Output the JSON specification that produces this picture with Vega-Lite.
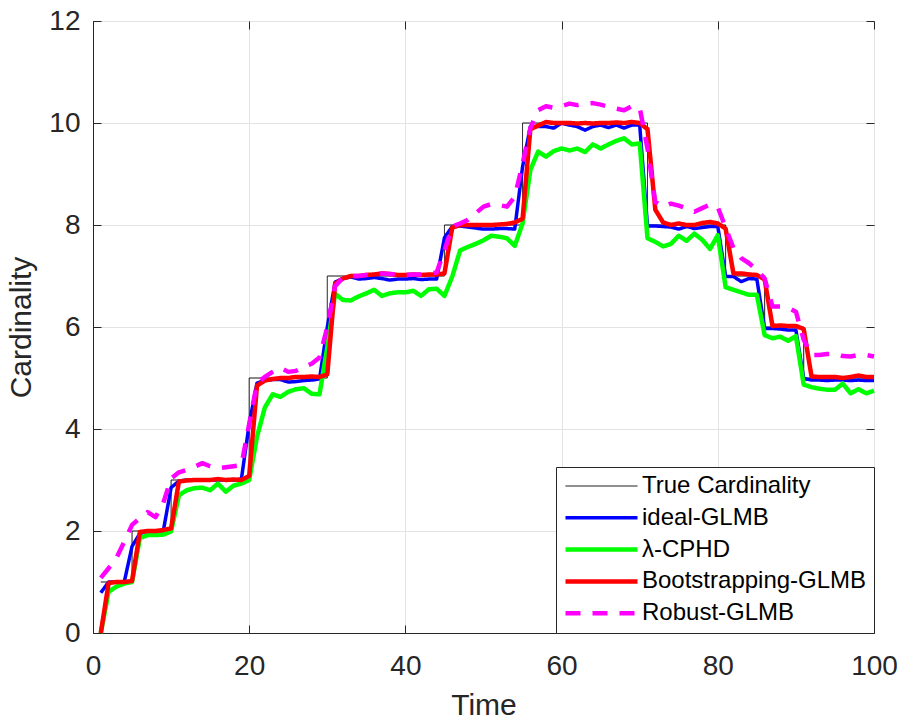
{
  "$schema": "https://vega.github.io/schema/vega-lite/v6.json",
  "width": 781,
  "height": 612,
  "autosize": "none",
  "padding": {"left": 93, "top": 21, "right": 25, "bottom": 82},
  "config": {
    "font": "Liberation Sans",
    "view": {"stroke": "#262626", "strokeWidth": 1},
    "axis": {
      "domainColor": "#262626",
      "tickColor": "#262626",
      "tickSize": -8,
      "labelColor": "#262626",
      "labelFont": "Liberation Sans",
      "labelFontSize": 28,
      "labelFlush": false,
      "titleFont": "Liberation Sans",
      "titleFontSize": 30,
      "titleFontWeight": "normal",
      "titleColor": "#262626",
      "gridColor": "#e3e3e3",
      "gridWidth": 1
    },
    "legend": {
      "orient": "bottom-right",
      "offset": 0,
      "padding": 7,
      "fillColor": "white",
      "strokeColor": "#262626",
      "labelFont": "Liberation Sans",
      "labelFontSize": 24,
      "labelColor": "#000000",
      "labelLimit": 0,
      "symbolType": "stroke",
      "symbolSize": 5184,
      "clipHeight": 24,
      "rowPadding": 7.8,
      "labelOffset": 2
    },
    "line": {"strokeJoin": "round"}
  },
  "datasets": {
    "card": [
      {"t": 1, "truth": 1, "ideal": 0.79, "cphd": 0, "boot": 0, "robust": 1.08},
      {"t": 2, "truth": 1, "ideal": 1.0, "cphd": 0.81, "boot": 0.98, "robust": 1.27},
      {"t": 3, "truth": 1, "ideal": 1.0, "cphd": 0.91, "boot": 1.0, "robust": 1.47},
      {"t": 4, "truth": 1, "ideal": 1.0, "cphd": 0.97, "boot": 1.0, "robust": 1.79},
      {"t": 5, "truth": 2, "ideal": 1.7, "cphd": 1.0, "boot": 1.02, "robust": 2.12},
      {"t": 6, "truth": 2, "ideal": 1.95, "cphd": 1.86, "boot": 1.98, "robust": 2.25},
      {"t": 7, "truth": 2, "ideal": 2.0, "cphd": 1.92, "boot": 2.0, "robust": 2.37},
      {"t": 8, "truth": 2, "ideal": 2.0, "cphd": 1.92, "boot": 2.0, "robust": 2.27},
      {"t": 9, "truth": 2, "ideal": 2.0, "cphd": 1.93, "boot": 2.02, "robust": 2.55},
      {"t": 10, "truth": 3, "ideal": 2.85, "cphd": 1.99, "boot": 2.05, "robust": 3.03},
      {"t": 11, "truth": 3, "ideal": 2.98, "cphd": 2.7, "boot": 2.97, "robust": 3.15},
      {"t": 12, "truth": 3, "ideal": 3.0, "cphd": 2.8, "boot": 2.99, "robust": 3.2},
      {"t": 13, "truth": 3, "ideal": 3.0, "cphd": 2.84, "boot": 3.0, "robust": 3.26},
      {"t": 14, "truth": 3, "ideal": 3.0, "cphd": 2.85, "boot": 3.0, "robust": 3.33},
      {"t": 15, "truth": 3, "ideal": 3.0, "cphd": 2.8, "boot": 3.0, "robust": 3.27},
      {"t": 16, "truth": 3, "ideal": 3.0, "cphd": 2.93, "boot": 3.02, "robust": 3.23},
      {"t": 17, "truth": 3, "ideal": 3.0, "cphd": 2.77, "boot": 3.0, "robust": 3.25},
      {"t": 18, "truth": 3, "ideal": 3.0, "cphd": 2.89, "boot": 3.01, "robust": 3.27},
      {"t": 19, "truth": 3, "ideal": 3.02, "cphd": 2.93, "boot": 3.0, "robust": 3.29},
      {"t": 20, "truth": 5, "ideal": 4.1, "cphd": 3.0, "boot": 3.08, "robust": 4.1},
      {"t": 21, "truth": 5, "ideal": 4.9, "cphd": 3.85, "boot": 4.85, "robust": 4.9},
      {"t": 22, "truth": 5, "ideal": 4.95, "cphd": 4.42, "boot": 4.95, "robust": 5.02},
      {"t": 23, "truth": 5, "ideal": 4.97, "cphd": 4.68, "boot": 4.98, "robust": 5.12},
      {"t": 24, "truth": 5, "ideal": 4.97, "cphd": 4.63, "boot": 5.0, "robust": 5.2},
      {"t": 25, "truth": 5, "ideal": 4.92, "cphd": 4.73, "boot": 5.0, "robust": 5.12},
      {"t": 26, "truth": 5, "ideal": 4.93, "cphd": 4.78, "boot": 5.02, "robust": 5.14},
      {"t": 27, "truth": 5, "ideal": 4.95, "cphd": 4.8, "boot": 5.02, "robust": 5.22},
      {"t": 28, "truth": 5, "ideal": 4.96, "cphd": 4.69, "boot": 5.03, "robust": 5.28},
      {"t": 29, "truth": 5, "ideal": 4.98, "cphd": 4.68, "boot": 5.02, "robust": 5.4},
      {"t": 30, "truth": 7, "ideal": 6.0, "cphd": 5.6, "boot": 5.07, "robust": 6.0},
      {"t": 31, "truth": 7, "ideal": 6.88, "cphd": 6.65, "boot": 6.85, "robust": 6.8},
      {"t": 32, "truth": 7, "ideal": 6.95, "cphd": 6.53, "boot": 6.95, "robust": 6.97},
      {"t": 33, "truth": 7, "ideal": 6.98, "cphd": 6.52, "boot": 7.0, "robust": 7.0},
      {"t": 34, "truth": 7, "ideal": 6.94, "cphd": 6.6, "boot": 7.0, "robust": 7.0},
      {"t": 35, "truth": 7, "ideal": 6.95, "cphd": 6.66, "boot": 7.02, "robust": 7.02},
      {"t": 36, "truth": 7, "ideal": 6.97, "cphd": 6.73, "boot": 7.03, "robust": 7.04},
      {"t": 37, "truth": 7, "ideal": 6.95, "cphd": 6.61, "boot": 7.05, "robust": 7.05},
      {"t": 38, "truth": 7, "ideal": 6.92, "cphd": 6.66, "boot": 7.04, "robust": 7.04},
      {"t": 39, "truth": 7, "ideal": 6.94, "cphd": 6.68, "boot": 7.02, "robust": 7.02},
      {"t": 40, "truth": 7, "ideal": 6.94, "cphd": 6.68, "boot": 7.02, "robust": 7.02},
      {"t": 41, "truth": 7, "ideal": 6.95, "cphd": 6.71, "boot": 7.03, "robust": 7.03},
      {"t": 42, "truth": 7, "ideal": 6.93, "cphd": 6.61, "boot": 7.02, "robust": 7.03},
      {"t": 43, "truth": 7, "ideal": 6.94, "cphd": 6.74, "boot": 7.03, "robust": 7.04},
      {"t": 44, "truth": 7, "ideal": 6.94, "cphd": 6.75, "boot": 7.03, "robust": 7.07},
      {"t": 45, "truth": 8, "ideal": 7.75, "cphd": 6.61, "boot": 7.05, "robust": 7.5},
      {"t": 46, "truth": 8, "ideal": 7.97, "cphd": 6.99, "boot": 7.95, "robust": 7.97},
      {"t": 47, "truth": 8, "ideal": 7.98, "cphd": 7.5, "boot": 8.0, "robust": 8.03},
      {"t": 48, "truth": 8, "ideal": 7.96, "cphd": 7.57, "boot": 8.0, "robust": 8.1},
      {"t": 49, "truth": 8, "ideal": 7.94, "cphd": 7.63, "boot": 8.0, "robust": 8.23},
      {"t": 50, "truth": 8, "ideal": 7.92, "cphd": 7.7, "boot": 8.0, "robust": 8.36},
      {"t": 51, "truth": 8, "ideal": 7.92, "cphd": 7.79, "boot": 8.0, "robust": 8.41},
      {"t": 52, "truth": 8, "ideal": 7.93, "cphd": 7.77, "boot": 8.01, "robust": 8.39},
      {"t": 53, "truth": 8, "ideal": 7.93, "cphd": 7.74, "boot": 8.02, "robust": 8.36},
      {"t": 54, "truth": 8, "ideal": 7.92, "cphd": 7.59, "boot": 8.05, "robust": 8.55},
      {"t": 55, "truth": 10, "ideal": 9.14, "cphd": 8.03, "boot": 8.12, "robust": 9.2},
      {"t": 56, "truth": 10, "ideal": 9.93, "cphd": 9.08, "boot": 9.88, "robust": 9.9},
      {"t": 57, "truth": 10, "ideal": 9.93, "cphd": 9.44, "boot": 9.95, "robust": 10.25},
      {"t": 58, "truth": 10, "ideal": 9.93, "cphd": 9.34, "boot": 10.02, "robust": 10.33},
      {"t": 59, "truth": 10, "ideal": 9.9, "cphd": 9.45, "boot": 10.0, "robust": 10.3},
      {"t": 60, "truth": 10, "ideal": 10.0, "cphd": 9.5, "boot": 10.0, "robust": 10.33},
      {"t": 61, "truth": 10, "ideal": 9.96, "cphd": 9.46, "boot": 10.0, "robust": 10.38},
      {"t": 62, "truth": 10, "ideal": 9.93, "cphd": 9.5, "boot": 9.99, "robust": 10.35},
      {"t": 63, "truth": 10, "ideal": 9.86, "cphd": 9.43, "boot": 10.0, "robust": 10.38},
      {"t": 64, "truth": 10, "ideal": 9.93, "cphd": 9.58, "boot": 9.99, "robust": 10.39},
      {"t": 65, "truth": 10, "ideal": 9.96, "cphd": 9.5, "boot": 10.0, "robust": 10.36},
      {"t": 66, "truth": 10, "ideal": 9.91, "cphd": 9.58, "boot": 10.0, "robust": 10.32},
      {"t": 67, "truth": 10, "ideal": 9.96, "cphd": 9.65, "boot": 10.01, "robust": 10.28},
      {"t": 68, "truth": 10, "ideal": 9.9, "cphd": 9.7, "boot": 10.0, "robust": 10.25},
      {"t": 69, "truth": 10, "ideal": 9.96, "cphd": 9.58, "boot": 10.02, "robust": 10.33},
      {"t": 70, "truth": 10, "ideal": 9.96, "cphd": 9.6, "boot": 10.0, "robust": 10.3},
      {"t": 71, "truth": 8, "ideal": 7.98, "cphd": 7.74, "boot": 9.88, "robust": 9.5},
      {"t": 72, "truth": 8, "ideal": 7.98, "cphd": 7.67, "boot": 8.3, "robust": 8.45},
      {"t": 73, "truth": 8, "ideal": 7.97, "cphd": 7.58, "boot": 8.05, "robust": 8.36},
      {"t": 74, "truth": 8, "ideal": 7.96, "cphd": 7.63, "boot": 8.0, "robust": 8.42},
      {"t": 75, "truth": 8, "ideal": 7.92, "cphd": 7.79, "boot": 8.03, "robust": 8.38},
      {"t": 76, "truth": 8, "ideal": 7.97, "cphd": 7.69, "boot": 8.0, "robust": 8.33},
      {"t": 77, "truth": 8, "ideal": 7.93, "cphd": 7.83, "boot": 8.0, "robust": 8.26},
      {"t": 78, "truth": 8, "ideal": 7.95, "cphd": 7.71, "boot": 8.04, "robust": 8.33},
      {"t": 79, "truth": 8, "ideal": 7.97, "cphd": 7.53, "boot": 8.06, "robust": 8.4},
      {"t": 80, "truth": 8, "ideal": 7.97, "cphd": 7.8, "boot": 8.03, "robust": 8.35},
      {"t": 81, "truth": 7, "ideal": 6.99, "cphd": 6.78, "boot": 7.93, "robust": 7.95},
      {"t": 82, "truth": 7, "ideal": 6.99, "cphd": 6.73, "boot": 7.05, "robust": 7.55},
      {"t": 83, "truth": 7, "ideal": 6.89, "cphd": 6.68, "boot": 7.05, "robust": 7.35},
      {"t": 84, "truth": 7, "ideal": 6.95, "cphd": 6.63, "boot": 7.03, "robust": 7.25},
      {"t": 85, "truth": 7, "ideal": 6.94, "cphd": 6.63, "boot": 7.02, "robust": 7.12},
      {"t": 86, "truth": 6, "ideal": 5.97, "cphd": 5.84, "boot": 6.93, "robust": 6.95},
      {"t": 87, "truth": 6, "ideal": 5.97, "cphd": 5.78, "boot": 6.02, "robust": 6.4},
      {"t": 88, "truth": 6, "ideal": 5.96, "cphd": 5.81, "boot": 6.03, "robust": 6.4},
      {"t": 89, "truth": 6, "ideal": 5.94, "cphd": 5.73, "boot": 6.02, "robust": 6.38},
      {"t": 90, "truth": 6, "ideal": 5.94, "cphd": 5.82, "boot": 6.02, "robust": 6.3},
      {"t": 91, "truth": 5, "ideal": 4.99, "cphd": 4.87, "boot": 5.96, "robust": 5.75},
      {"t": 92, "truth": 5, "ideal": 4.96, "cphd": 4.82, "boot": 5.03, "robust": 5.45},
      {"t": 93, "truth": 5, "ideal": 4.96, "cphd": 4.79, "boot": 5.02, "robust": 5.45},
      {"t": 94, "truth": 5, "ideal": 4.95, "cphd": 4.77, "boot": 5.02, "robust": 5.47},
      {"t": 95, "truth": 5, "ideal": 4.96, "cphd": 4.77, "boot": 5.02, "robust": 5.48},
      {"t": 96, "truth": 5, "ideal": 4.96, "cphd": 4.89, "boot": 5.0, "robust": 5.43},
      {"t": 97, "truth": 5, "ideal": 4.95, "cphd": 4.7, "boot": 5.02, "robust": 5.42},
      {"t": 98, "truth": 5, "ideal": 4.96, "cphd": 4.78, "boot": 5.05, "robust": 5.45},
      {"t": 99, "truth": 5, "ideal": 4.95, "cphd": 4.7, "boot": 5.02, "robust": 5.45},
      {"t": 100, "truth": 5, "ideal": 4.95, "cphd": 4.75, "boot": 5.02, "robust": 5.42}
    ]
  },
  "data": {"name": "card"},
  "resolve": {"axis": {"x": "independent", "y": "independent"}},
  "layer": [
    {
      "transform": [{"fold": ["truth"], "as": ["series", "n"]}],
      "mark": {"type": "line", "interpolate": "step-after"},
      "encoding": {
        "x": {"field": "t", "type": "quantitative", "scale": {"domain": [0, 100], "nice": false},
              "axis": {"orient": "bottom", "title": "Time", "values": [0, 20, 40, 60, 80, 100], "grid": true, "labelPadding": 27, "titlePadding": 10}},
        "y": {"field": "n", "type": "quantitative", "scale": {"domain": [0, 12], "nice": false, "zero": true},
              "axis": {"orient": "left", "title": "Cardinality", "values": [0, 2, 4, 6, 8, 10, 12], "grid": true, "labelPadding": 21, "titlePadding": 12}},
        "color": {"field": "series", "type": "nominal",
                  "scale": {"domain": ["truth", "ideal", "cphd", "boot", "robust"], "range": ["#000000", "#0000ff", "#00ff00", "#ff0000", "#ff00ff"]},
                  "legend": {"title": null, "labelExpr": "{'truth': 'True Cardinality', 'ideal': 'ideal-GLMB', 'cphd': 'λ-CPHD', 'boot': 'Bootstrapping-GLMB', 'robust': 'Robust-GLMB'}[datum.label]"}},
        "strokeDash": {"field": "series", "type": "nominal",
                       "scale": {"domain": ["truth", "ideal", "cphd", "boot", "robust"], "range": [[1, 0], [1, 0], [1, 0], [1, 0], [15, 12]]},
                       "legend": {"title": null, "labelExpr": "{'truth': 'True Cardinality', 'ideal': 'ideal-GLMB', 'cphd': 'λ-CPHD', 'boot': 'Bootstrapping-GLMB', 'robust': 'Robust-GLMB'}[datum.label]"}},
        "strokeWidth": {"field": "series", "type": "nominal",
                        "scale": {"type": "ordinal", "domain": ["truth", "ideal", "cphd", "boot", "robust"], "range": [1, 3.5, 4.5, 4.5, 4.5]},
                        "legend": {"title": null, "labelExpr": "{'truth': 'True Cardinality', 'ideal': 'ideal-GLMB', 'cphd': 'λ-CPHD', 'boot': 'Bootstrapping-GLMB', 'robust': 'Robust-GLMB'}[datum.label]"}}
      }
    },
    {
      "transform": [{"fold": ["ideal", "cphd", "boot", "robust"], "as": ["series", "n"]}],
      "mark": {"type": "line"},
      "encoding": {
        "x": {"field": "t", "type": "quantitative", "axis": null},
        "y": {"field": "n", "type": "quantitative", "axis": null},
        "color": {"field": "series", "type": "nominal",
                  "scale": {"domain": ["truth", "ideal", "cphd", "boot", "robust"], "range": ["#000000", "#0000ff", "#00ff00", "#ff0000", "#ff00ff"]},
                  "legend": {"title": null, "labelExpr": "{'truth': 'True Cardinality', 'ideal': 'ideal-GLMB', 'cphd': 'λ-CPHD', 'boot': 'Bootstrapping-GLMB', 'robust': 'Robust-GLMB'}[datum.label]"}},
        "strokeDash": {"field": "series", "type": "nominal",
                       "scale": {"domain": ["truth", "ideal", "cphd", "boot", "robust"], "range": [[1, 0], [1, 0], [1, 0], [1, 0], [15, 12]]},
                       "legend": {"title": null, "labelExpr": "{'truth': 'True Cardinality', 'ideal': 'ideal-GLMB', 'cphd': 'λ-CPHD', 'boot': 'Bootstrapping-GLMB', 'robust': 'Robust-GLMB'}[datum.label]"}},
        "strokeWidth": {"field": "series", "type": "nominal",
                        "scale": {"type": "ordinal", "domain": ["truth", "ideal", "cphd", "boot", "robust"], "range": [1, 3.5, 4.5, 4.5, 4.5]},
                        "legend": {"title": null, "labelExpr": "{'truth': 'True Cardinality', 'ideal': 'ideal-GLMB', 'cphd': 'λ-CPHD', 'boot': 'Bootstrapping-GLMB', 'robust': 'Robust-GLMB'}[datum.label]"}}
      }
    },
    {
      "mark": {"type": "point", "opacity": 0},
      "encoding": {
        "x": {"field": "t", "type": "quantitative",
              "axis": {"orient": "top", "title": null, "labels": false, "domain": false, "grid": false, "values": [0, 20, 40, 60, 80, 100]}},
        "y": {"field": "truth", "type": "quantitative",
              "axis": {"orient": "right", "title": null, "labels": false, "domain": false, "grid": false, "values": [0, 2, 4, 6, 8, 10, 12]}}
      }
    }
  ]
}
